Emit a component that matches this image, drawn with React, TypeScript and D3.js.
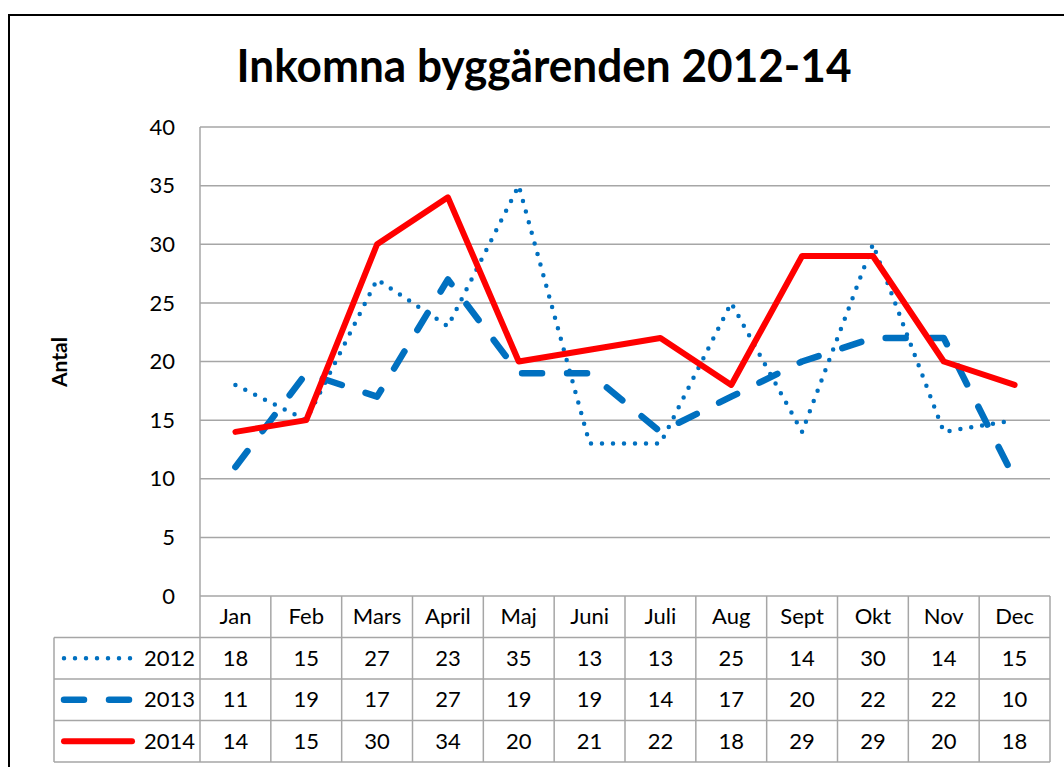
import React from "react";
import * as d3 from "d3";

// chart data
const months = ["Jan", "Feb", "Mars", "April", "Maj", "Juni", "Juli", "Aug", "Sept", "Okt", "Nov", "Dec"];
const years = ["2012", "2013", "2014"];
const values2012 = [18, 15, 27, 23, 35, 13, 13, 25, 14, 30, 14, 15];
const values2013 = [11, 19, 17, 27, 19, 19, 14, 17, 20, 22, 22, 10];
const values2014 = [14, 15, 30, 34, 20, 21, 22, 18, 29, 29, 20, 18];
const yTicks = [0, 5, 10, 15, 20, 25, 30, 35, 40];

const W = 1064;
const H = 767;
const FONT = "Lato, 'Open Sans', sans-serif";
const GRID = "#a6a6a6";

const series = [
  { name: years[0], values: values2012, color: "#0070C0", width: 4.5, dash: "0 11" },
  { name: years[1], values: values2013, color: "#0070C0", width: 6.5, dash: "20 25" },
  { name: years[2], values: values2014, color: "#FF0000", width: 6, dash: null },
];

export default function App() {
  const left = 200, right = 1050, top = 127, bottom = 596;
  const rowH = 41.5;
  const legendLeft = 54;

  const x = d3.scaleBand().domain(months).range([left, right]).padding(0);
  const y = d3.scaleLinear().domain([0, 40]).range([bottom, top]);
  const line = d3.line<number>()
    .x((_, i) => x(months[i])! + x.bandwidth() / 2)
    .y((d) => y(d));

  const tableBottom = bottom + rowH * 4;

  return (
    <svg width={W} height={H} style={{ position: "absolute", left: 0, top: 0, background: "#fff" }}>
      <rect x={0} y={0} width={W} height={H} fill="#fff" />
      {/* outer frame, cut off at right and bottom */}
      <rect x={9} y={15} width={W + 50} height={H + 50} fill="none" stroke="#000" strokeWidth={2} />

      <text x={544} y={82} textAnchor="middle" fontFamily={FONT} fontWeight="bold" fontSize={45}
        textLength={615} lengthAdjust="spacingAndGlyphs" fill="#000">
        Inkomna byggärenden 2012-14
      </text>

      {/* gridlines */}
      {yTicks.map((t) => (
        <g key={t}>
          <line x1={left} x2={right} y1={y(t)} y2={y(t)} stroke={GRID} strokeWidth={1.5} />
          <text x={175} y={y(t)} dy="0.35em" textAnchor="end" fontFamily={FONT} fontSize={22} fill="#000">
            {t}
          </text>
        </g>
      ))}
      <line x1={left} x2={left} y1={top} y2={tableBottom} stroke={GRID} strokeWidth={1.5} />

      <text transform="translate(67,362) rotate(-90)" textAnchor="middle" fontFamily={FONT}
        fontWeight="bold" fontSize={21} fill="#000">Antal</text>

      {/* data table grid */}
      {months.map((m, i) => (
        <g key={m}>
          <line x1={x(m)! + x.bandwidth()} x2={x(m)! + x.bandwidth()} y1={bottom} y2={tableBottom}
            stroke={GRID} strokeWidth={1.5} />
          <text x={x(m)! + x.bandwidth() / 2} y={bottom + rowH / 2} dy="0.35em" textAnchor="middle"
            fontFamily={FONT} fontSize={22} fill="#000">{m}</text>
        </g>
      ))}
      {[1, 2, 3, 4].map((r) => (
        <line key={r} x1={legendLeft} x2={right} y1={bottom + rowH * r} y2={bottom + rowH * r}
          stroke={GRID} strokeWidth={1.5} />
      ))}
      <line x1={legendLeft} x2={legendLeft} y1={bottom + rowH} y2={tableBottom} stroke={GRID} strokeWidth={1.5} />

      {series.map((s, r) => {
        const cy = bottom + rowH * (r + 1) + rowH / 2;
        return (
          <g key={s.name}>
            <line x1={64} x2={132} y1={cy} y2={cy} stroke={s.color} strokeWidth={s.width}
              strokeLinecap="round" strokeDasharray={s.dash ?? undefined} />
            <text x={195} y={cy} dy="0.35em" textAnchor="end" fontFamily={FONT} fontSize={22} fill="#000">
              {s.name}
            </text>
            {s.values.map((v, i) => (
              <text key={i} x={x(months[i])! + x.bandwidth() / 2} y={cy} dy="0.35em" textAnchor="middle"
                fontFamily={FONT} fontSize={22} fill="#000">{v}</text>
            ))}
          </g>
        );
      })}

      {/* series lines */}
      {series.map((s) => (
        <path key={s.name} d={line(s.values)!} fill="none" stroke={s.color} strokeWidth={s.width}
          strokeLinecap="round" strokeLinejoin="round" strokeDasharray={s.dash ?? undefined} />
      ))}
    </svg>
  );
}
